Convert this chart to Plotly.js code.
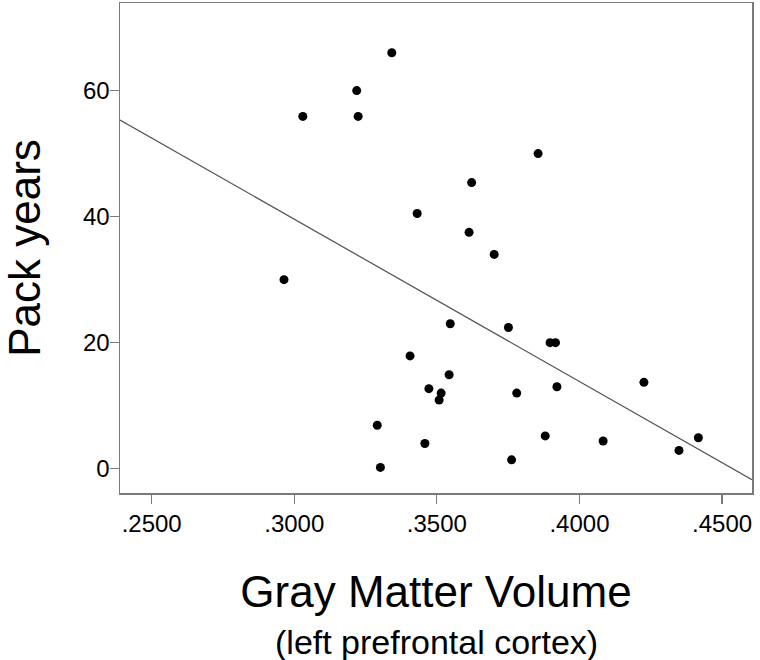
<!DOCTYPE html>
<html>
<head>
<meta charset="utf-8">
<script src="https://cdn.plot.ly/plotly-3.0.1.min.js"></script>
<style>
  html, body { margin: 0; padding: 0; background: #fff; }
  #chart { width: 760px; height: 660px; }
</style>
</head>
<body>
<div id="chart"></div>
<script>
// Gray matter volume (left prefrontal cortex) for each subject
const grayMatter = [
  0.3342, 0.3219, 0.3030, 0.3224, 0.3855, 0.3622, 0.3431, 0.3613, 0.3701, 0.2964,
  0.3547, 0.3751, 0.3897, 0.3916, 0.3406, 0.3543, 0.4226, 0.3472, 0.3921, 0.3515,
  0.3508, 0.3780, 0.3291, 0.3880, 0.4083, 0.3458, 0.4417, 0.4349, 0.3302, 0.3762
];
// Pack years for each subject
const packYears = [
  66.0, 60.0, 55.9, 55.9, 50.0, 45.4, 40.5, 37.5, 34.0, 30.0,
  23.0, 22.4, 20.0, 20.0, 17.9, 14.9, 13.7, 12.7, 13.0, 12.0,
  10.9, 12.0, 6.9, 5.2, 4.4, 4.0, 4.9, 2.9, 0.2, 1.4
];
const xTickVals = [0.25, 0.30, 0.35, 0.40, 0.45];
const xTickText = ['.2500', '.3000', '.3500', '.4000', '.4500'];
const yTickVals = [0, 20, 40, 60];
const xRange = [0.2389, 0.4605];
const yRange = [-3.86, 73.9];

// Least-squares linear fit computed from the data
const n = grayMatter.length;
const mx = grayMatter.reduce((a, b) => a + b, 0) / n;
const my = packYears.reduce((a, b) => a + b, 0) / n;
let sxy = 0, sxx = 0;
for (let i = 0; i < n; i++) {
  sxy += (grayMatter[i] - mx) * (packYears[i] - my);
  sxx += (grayMatter[i] - mx) * (grayMatter[i] - mx);
}
const slope = sxy / sxx;
const intercept = my - slope * mx;
const fitX = xRange.slice();
const fitY = fitX.map(x => intercept + slope * x);

const font = 'Liberation Sans, Arial, sans-serif';
const frameColor = '#7a7a7a';

const traces = [
  {
    x: fitX, y: fitY, type: 'scatter', mode: 'lines',
    line: { color: '#505050', width: 1.2 },
    hoverinfo: 'skip', showlegend: false
  },
  {
    x: grayMatter, y: packYears, type: 'scatter', mode: 'markers',
    marker: { color: '#000', size: 9 },
    showlegend: false
  }
];

const layout = {
  width: 760, height: 660,
  margin: { l: 120, r: 8, t: 3, b: 167 },
  paper_bgcolor: '#fff', plot_bgcolor: '#fff',
  font: { family: font, color: '#000' },
  showlegend: false,
  xaxis: {
    range: xRange, tickvals: xTickVals, ticktext: xTickText,
    showgrid: false, zeroline: false,
    showline: true, mirror: true, linecolor: frameColor, linewidth: 1.5,
    ticks: 'outside', ticklen: 9, tickcolor: frameColor, tickwidth: 1.2,
    tickfont: { size: 24, family: font, color: '#000' },
    title: { text: 'Gray Matter Volume', font: { size: 44, family: font, color: '#000' }, standoff: 40 }
  },
  yaxis: {
    range: yRange, tickvals: yTickVals,
    showgrid: false, zeroline: false,
    showline: true, mirror: true, linecolor: frameColor, linewidth: 1.5,
    ticks: 'outside', ticklen: 9, tickcolor: frameColor, tickwidth: 1.2,
    ticklabelstandoff: -5,
    tickfont: { size: 24, family: font, color: '#000' },
    title: { text: 'Pack years', font: { size: 44, family: font, color: '#000' }, standoff: 30 }
  },
  annotations: [
    {
      text: '(left prefrontal cortex)', xref: 'paper', yref: 'paper',
      x: 0.5, y: 0, xanchor: 'center', yanchor: 'middle', yshift: -149,
      showarrow: false, font: { size: 34, family: font, color: '#000' }
    }
  ]
};

Plotly.newPlot('chart', traces, layout, { displayModeBar: false, staticPlot: true });
</script>
</body>
</html>
